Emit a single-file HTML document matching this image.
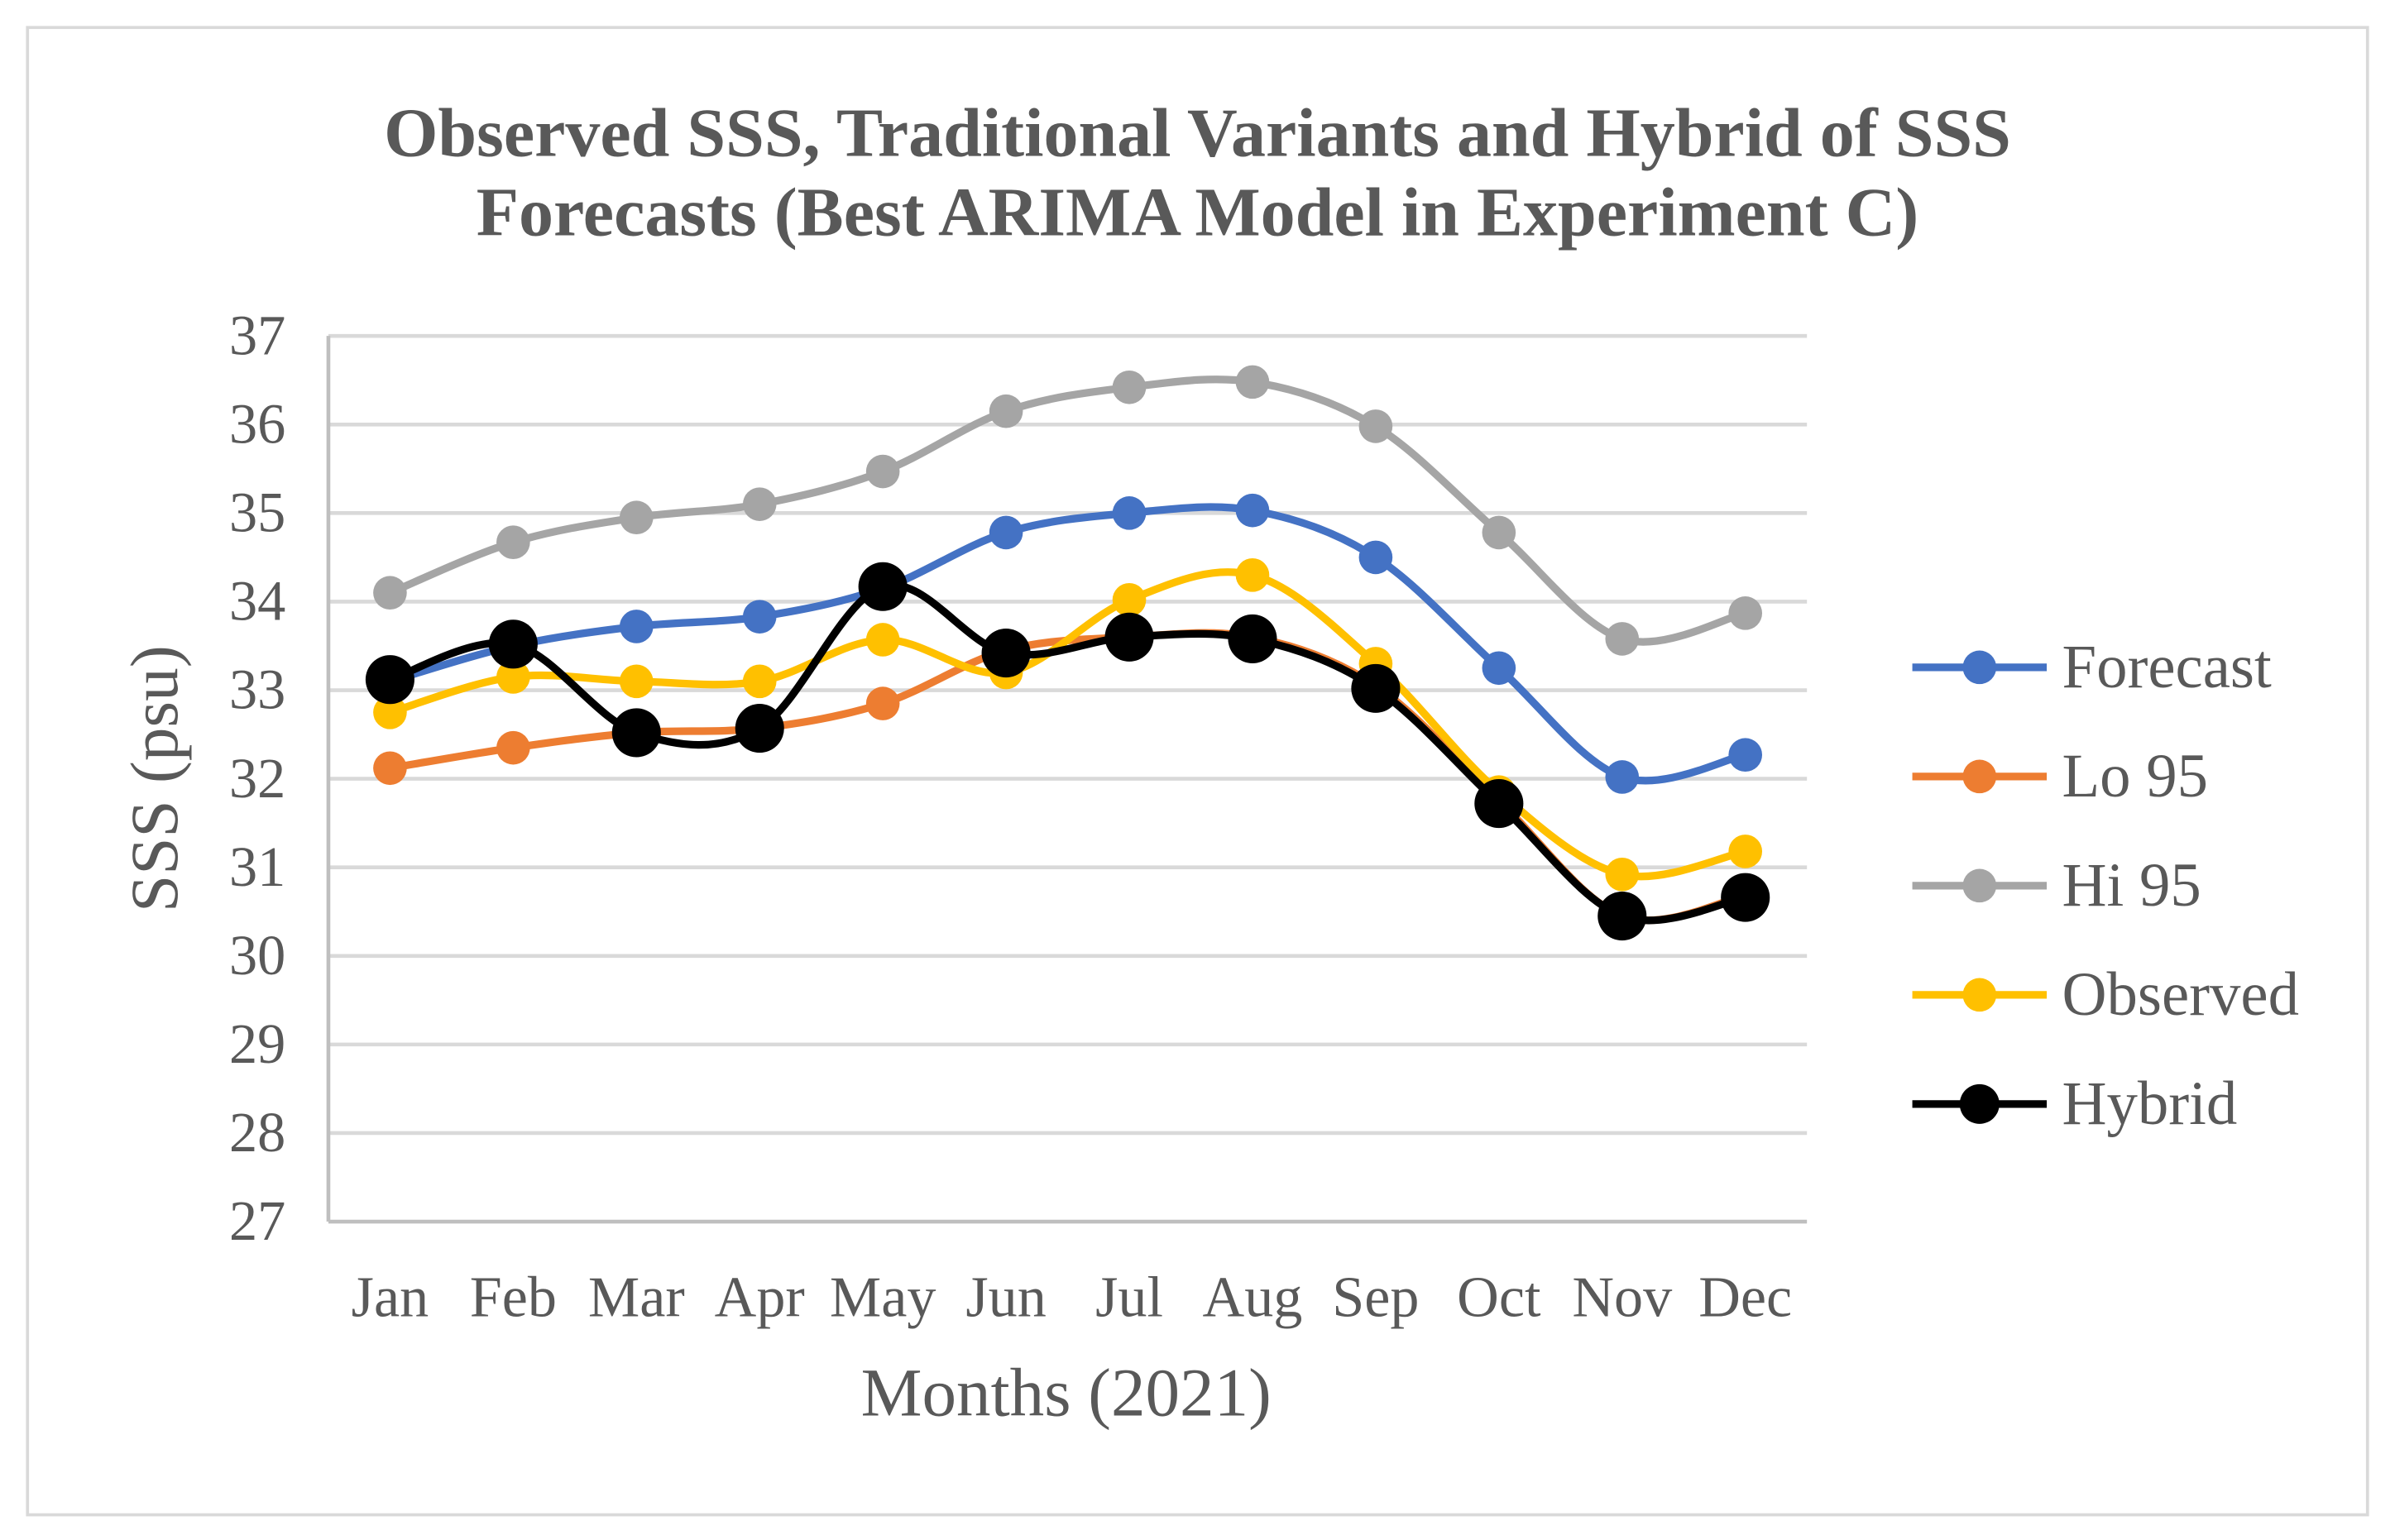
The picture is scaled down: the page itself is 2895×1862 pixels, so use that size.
<!DOCTYPE html>
<html><head><meta charset="utf-8"><style>
html,body{margin:0;padding:0;background:#fff;}
svg{display:block;font-family:"Liberation Serif",serif;}
</style></head><body>
<svg id="chart" width="2895" height="1862" viewBox="0 0 1568 1008.5" preserveAspectRatio="none">
<rect x="18" y="18" width="1532" height="974" fill="#fff" stroke="#d9d9d9" stroke-width="2"/>
<text x="784" y="102" text-anchor="middle" font-size="45.5" font-weight="bold" fill="#595959">Observed SSS, Traditional Variants and Hybrid of SSS</text>
<text x="784" y="154" text-anchor="middle" font-size="45.5" font-weight="bold" fill="#595959">Forecasts (Best ARIMA Model in Experiment C)</text>
<g id="grid"></g><g id="yticks"></g><g id="xticks"></g><g id="series"></g><g id="legend"></g>
<text x="698" y="927" text-anchor="middle" font-size="45" fill="#595959">Months (2021)</text>
<text transform="translate(116,510) rotate(-90)" text-anchor="middle" font-size="44" fill="#595959">SSS (psu)</text>
</svg>
<script>
const months=["Jan","Feb","Mar","Apr","May","Jun","Jul","Aug","Sep","Oct","Nov","Dec"];
const yTicks=[27,28,29,30,31,32,33,34,35,36,37];
const forecast=[33.1,33.5,33.72,33.83,34.15,34.78,35.0,35.03,34.5,33.25,32.02,32.27];
const lo95=[32.12,32.35,32.52,32.57,32.85,33.45,33.6,33.6,33.05,31.75,30.45,30.68];
const hi95=[34.1,34.67,34.95,35.1,35.47,36.15,36.42,36.48,35.98,34.78,33.58,33.87];
const observed=[32.75,33.15,33.1,33.1,33.57,33.2,34.02,34.3,33.3,31.85,30.92,31.18];
const hybrid=[33.12,33.52,32.52,32.57,34.17,33.42,33.6,33.58,33.02,31.72,30.45,30.66];
const seriesNames=["Forecast","Lo 95","Hi 95","Observed","Hybrid"];
const NS="http://www.w3.org/2000/svg";
const X0=215,X1=1183,Y0=800,Y1=220;
const x=i=>X0+(X1-X0)*(i+0.5)/months.length;
const y=v=>Y0-(v-27)/(37-27)*(Y0-Y1);
function mk(t,a,p){const e=document.createElementNS(NS,t);for(const k in a)e.setAttribute(k,a[k]);p.appendChild(e);return e;}
const grid=document.getElementById('grid'),yt=document.getElementById('yticks'),xt=document.getElementById('xticks');
yTicks.forEach(v=>{
 if(v>27){const l=mk('line',{x1:X0,x2:X1,y1:y(v),y2:y(v),stroke:'#d9d9d9','stroke-width':2.5},grid);
 
 }
 const t=mk('text',{x:187,y:y(v)+12,'text-anchor':'end','font-size':37,fill:'#595959'},yt);t.textContent=v;
 
 
});
const ax=mk('line',{x1:X0,x2:X0,y1:Y1,y2:Y0,stroke:'#bfbfbf','stroke-width':2.5},grid);


const bx=mk('line',{x1:X0,x2:X1,y1:Y0,y2:Y0,stroke:'#bfbfbf','stroke-width':2.5},grid);


months.forEach((m,i)=>{const t=mk('text',{x:x(i),y:862,'text-anchor':'middle','font-size':38,fill:'#595959'},xt);t.textContent=m;
 
 });
function path(vals){const p=vals.map((v,i)=>[x(i),y(v)]);let d='M'+p[0][0]+','+p[0][1];
 for(let i=0;i<p.length-1;i++){const p0=p[i-1]||p[i],p1=p[i],p2=p[i+1],p3=p[i+2]||p2;const k=1/6;
 d+=` C${p1[0]+(p2[0]-p0[0])*k},${p1[1]+(p2[1]-p0[1])*k} ${p2[0]-(p3[0]-p1[0])*k},${p2[1]-(p3[1]-p1[1])*k} ${p2[0]},${p2[1]}`;}return d;}
const all=[forecast,lo95,hi95,observed,hybrid];
const colors=["#4472C4","#ED7D31","#A5A5A5","#FFC000","#000000"];
const radii=[11,11,11,11,16];
const sg=document.getElementById('series'),lg=document.getElementById('legend');
all.forEach((vals,s)=>{
 const g=mk('g',{},sg);
 
 
 mk('path',{d:path(vals),fill:'none',stroke:colors[s],'stroke-width':5},g);
 vals.forEach((v,i)=>{const c=mk('circle',{cx:x(i),cy:y(v),r:radii[s],fill:colors[s]},g);
  
  });
 const ly=437+s*71.5;
 const le=mk('g',{},lg);
 
 
 mk('line',{x1:1252,x2:1340,y1:ly,y2:ly,stroke:colors[s],'stroke-width':5},le);
 mk('circle',{cx:1296,cy:ly,r:radii[s]==16?13:11,fill:colors[s]},le);
 const t=mk('text',{x:1350,y:ly+13,'font-size':40.5,fill:'#595959'},le);t.textContent=seriesNames[s];
});
</script>
</body></html>
